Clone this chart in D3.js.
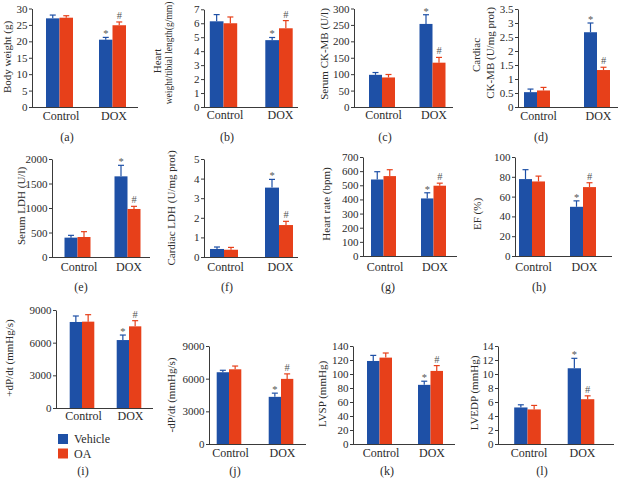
<!DOCTYPE html>
<html>
<head>
<meta charset="utf-8">
<script src="https://cdn.jsdelivr.net/npm/d3@7"></script>
<style>
  html, body { margin: 0; padding: 0; background: #fff; }
  svg { display: block; font-family: "Liberation Serif", "Times New Roman", serif; }
</style>
</head>
<body>
<svg id="chart" width="623" height="480"></svg>
<script>
// ---------- DATA ----------
// order of each array: [Control-Vehicle, Control-OA, DOX-Vehicle, DOX-OA]
const categories = ["Control", "DOX"];
const seriesNames = ["Vehicle", "OA"];
const sigMarks = ["", "", "*", "#"];

const bodyWeightMean = [27.0, 27.2, 20.5, 24.9];
const bodyWeightErr  = [1.0, 0.6, 0.7, 1.0];
const bodyWeightTicks = [0, 5, 10, 15, 20, 25, 30];

const heartTibialMean = [6.14, 6.0, 4.79, 5.64];
const heartTibialErr  = [0.48, 0.45, 0.19, 0.55];
const heartTibialTicks = [0, 1, 2, 3, 4, 5, 6, 7];

const serumCKMBMean = [98, 90, 253, 135];
const serumCKMBErr  = [7, 9, 28, 16];
const serumCKMBTicks = [0, 50, 100, 150, 200, 250, 300];

const cardiacCKMBMean = [0.53, 0.59, 2.67, 1.32];
const cardiacCKMBErr  = [0.11, 0.11, 0.33, 0.10];
const cardiacCKMBTicks = [0, 0.5, 1, 1.5, 2, 2.5, 3, 3.5];

const serumLDHMean = [395, 408, 1646, 980];
const serumLDHErr  = [47, 109, 225, 54];
const serumLDHTicks = [0, 500, 1000, 1500, 2000];

const cardiacLDHMean = [0.41, 0.37, 3.54, 1.63];
const cardiacLDHErr  = [0.10, 0.12, 0.42, 0.19];
const cardiacLDHTicks = [0, 1, 2, 3, 4, 5];

const heartRateMean = [541, 565, 407, 497];
const heartRateErr  = [55, 45, 40, 18];
const heartRateTicks = [0, 100, 200, 300, 400, 500, 600, 700];

const efMean = [77.7, 75.3, 49.7, 69.6];
const efErr  = [9.5, 5.4, 6.0, 4.4];
const efTicks = [0, 20, 40, 60, 80, 100];

const posDpdtMean = [7900, 7930, 6240, 7500];
const posDpdtErr  = [550, 640, 460, 520];
const posDpdtTicks = [0, 3000, 6000, 9000];

const negDpdtMean = [6590, 6860, 4330, 5980];
const negDpdtErr  = [180, 300, 340, 460];
const negDpdtTicks = [0, 3000, 6000, 9000];

const lvspMean = [118.6, 123.4, 84.5, 104.4];
const lvspErr  = [8.0, 6.6, 5.2, 7.6];
const lvspTicks = [0, 20, 40, 60, 80, 100, 120, 140];

const lvedpMean = [5.22, 4.94, 10.82, 6.4];
const lvedpErr  = [0.38, 0.57, 1.42, 0.48];
const lvedpTicks = [0, 2, 4, 6, 8, 10, 12, 14];

const panelLetters = ["(a)", "(b)", "(c)", "(d)", "(e)", "(f)", "(g)", "(h)", "(i)", "(j)", "(k)", "(l)"];

// ---------- LAYOUT / STYLE ----------
const colors = ["#1e50a6", "#e7401a"];
const axisColor = "#3a3a3a";
const textColor = "#2b2b2b";

const panels = [
  {mean: bodyWeightMean, err: bodyWeightErr, ticks: bodyWeightTicks,
   titles: [{t: "Body weight (g)", x: 7, y: 57, fs: 11}],
   x0: 32, x1: 138, yTop: 8.5, yBot: 107, c: [59.5, 112.5], bw: 13.5, catY: 116, lx: 67, ly: 137},
  {mean: heartTibialMean, err: heartTibialErr, ticks: heartTibialTicks,
   titles: [{t: "Heart", x: 157, y: 61, fs: 11}, {t: "weight/tibial length(g/mm)", x: 169, y: 53, fs: 9.5}],
   x0: 204, x1: 298, yTop: 9.3, yBot: 107, c: [223.5, 279], bw: 13.7, catY: 115, lx: 227, ly: 137},
  {mean: serumCKMBMean, err: serumCKMBErr, ticks: serumCKMBTicks,
   titles: [{t: "Serum CK-MB (U/l)", x: 324, y: 54, fs: 11}],
   x0: 354, x1: 453, yTop: 8.5, yBot: 107, c: [382, 432.5], bw: 13, catY: 115, lx: 385, ly: 137},
  {mean: cardiacCKMBMean, err: cardiacCKMBErr, ticks: cardiacCKMBTicks,
   titles: [{t: "Cardiac", x: 476, y: 55, fs: 11}, {t: "CK-MB (U/mg prot)", x: 490, y: 53, fs: 11}],
   x0: 518, x1: 618, yTop: 9, yBot: 107, c: [537, 597], bw: 13, catY: 116, lx: 541, ly: 137},

  {mean: serumLDHMean, err: serumLDHErr, ticks: serumLDHTicks,
   titles: [{t: "Serum LDH (U/l)", x: 20.5, y: 206, fs: 11}],
   x0: 52, x1: 150, yTop: 159, yBot: 257, c: [77.5, 127.5], bw: 13, catY: 267, lx: 81, ly: 287},
  {mean: cardiacLDHMean, err: cardiacLDHErr, ticks: cardiacLDHTicks,
   titles: [{t: "Cardiac LDH (U/mg prot)", x: 170.5, y: 208, fs: 11}],
   x0: 204, x1: 298, yTop: 159, yBot: 257, c: [224, 279], bw: 14, catY: 267, lx: 227, ly: 287},
  {mean: heartRateMean, err: heartRateErr, ticks: heartRateTicks,
   titles: [{t: "Heart rate (bpm)", x: 326, y: 204, fs: 11}],
   x0: 363, x1: 457, yTop: 157, yBot: 256, c: [383.5, 433.5], bw: 12.5, catY: 267, lx: 388, ly: 287},
  {mean: efMean, err: efErr, ticks: efTicks,
   titles: [{t: "EF (%)", x: 477, y: 214, fs: 11}],
   x0: 515, x1: 612, yTop: 157, yBot: 256, c: [532, 583], bw: 13, catY: 267, lx: 539, ly: 287},

  {mean: posDpdtMean, err: posDpdtErr, ticks: posDpdtTicks,
   titles: [{t: "+dP/dt (mmHg/s)", x: 9, y: 358, fs: 11}],
   x0: 56, x1: 153, yTop: 310, yBot: 408, c: [82, 129], bw: 12.3, catY: 416, lx: 83, ly: 471},
  {mean: negDpdtMean, err: negDpdtErr, ticks: negDpdtTicks,
   titles: [{t: "-dP/dt (mmHg/s)", x: 171, y: 395, fs: 11}],
   x0: 209, x1: 306, yTop: 346, yBot: 444, c: [229, 281], bw: 12.3, catY: 453, lx: 235, ly: 471},
  {mean: lvspMean, err: lvspErr, ticks: lvspTicks,
   titles: [{t: "LVSP (mmHg)", x: 322, y: 394, fs: 11}],
   x0: 353, x1: 455, yTop: 346, yBot: 444, c: [379.5, 430.5], bw: 12.5, catY: 453, lx: 387, ly: 471},
  {mean: lvedpMean, err: lvedpErr, ticks: lvedpTicks,
   titles: [{t: "LVEDP (mmHg)", x: 474, y: 393, fs: 11}],
   x0: 498, x1: 614, yTop: 346, yBot: 444, c: [527.5, 581], bw: 13.3, catY: 453, lx: 542, ly: 471}
];

// ---------- DRAW ----------
const svg = d3.select("#chart");

panels.forEach((p, pi) => {
  const g = svg.append("g");
  const ticks = p.ticks;
  const y = d3.scaleLinear().domain([0, ticks[ticks.length - 1]]).range([p.yBot, p.yTop]);
  const x = d3.scalePoint().domain(categories).range(p.c);

  const recs = [];
  categories.forEach((cat, ci) => {
    seriesNames.forEach((s, si) => {
      const k = ci * 2 + si;
      recs.push({cat, si, v: p.mean[k], e: p.err[k], mark: sigMarks[k]});
    });
  });
  const bx = d => x(d.cat) - p.bw + d.si * p.bw;

  // bars
  g.selectAll("rect.bar").data(recs).join("rect")
    .attr("x", bx)
    .attr("y", d => y(d.v))
    .attr("width", p.bw)
    .attr("height", d => y(0) - y(d.v))
    .attr("fill", d => colors[d.si]);

  // error bars (upper only)
  g.selectAll("line.err").data(recs).join("line")
    .attr("x1", d => bx(d) + p.bw / 2).attr("x2", d => bx(d) + p.bw / 2)
    .attr("y1", d => y(d.v)).attr("y2", d => y(d.v + d.e))
    .attr("stroke", d => colors[d.si]).attr("stroke-width", 1.2);
  g.selectAll("line.cap").data(recs).join("line")
    .attr("x1", d => bx(d) + p.bw / 2 - 3).attr("x2", d => bx(d) + p.bw / 2 + 3)
    .attr("y1", d => y(d.v + d.e)).attr("y2", d => y(d.v + d.e))
    .attr("stroke", d => colors[d.si]).attr("stroke-width", 1.2);

  // significance marks
  g.selectAll("text.sig").data(recs.filter(d => d.mark)).join("text")
    .attr("x", d => bx(d) + p.bw / 2)
    .attr("y", d => y(d.v + d.e) - (d.mark === "*" ? 0 : 3))
    .attr("text-anchor", "middle")
    .attr("font-size", 10.5)
    .attr("fill", "#555")
    .text(d => d.mark);

  // y axis
  const ax = g.append("g").attr("transform", `translate(${p.x0},0)`)
    .call(d3.axisLeft(y).tickValues(ticks).tickFormat(d => String(d)).tickSize(3).tickSizeOuter(0).tickPadding(1.5));
  ax.selectAll("path, line").attr("stroke", axisColor);
  ax.selectAll("text").attr("font-size", 11).attr("fill", textColor)
    .attr("font-family", "Liberation Serif, Times New Roman, serif");

  // x axis line
  g.append("line").attr("x1", p.x0).attr("x2", p.x1)
    .attr("y1", y(0) + 0.5).attr("y2", y(0) + 0.5)
    .attr("stroke", axisColor).attr("stroke-width", 1);

  // category labels
  g.selectAll("text.cat").data(categories).join("text")
    .attr("x", d => x(d) + 1.5)
    .attr("y", p.catY)
    .attr("dominant-baseline", "central")
    .attr("text-anchor", "middle")
    .attr("font-size", 12)
    .attr("fill", textColor)
    .text(d => d);

  // titles
  p.titles.forEach(t => {
    g.append("text")
      .attr("transform", `translate(${t.x},${t.y}) rotate(-90)`)
      .attr("text-anchor", "middle")
      .attr("dominant-baseline", "central")
      .attr("font-size", t.fs)
      .attr("fill", textColor)
      .text(t.t);
  });

  // panel letter
  g.append("text").attr("x", p.lx).attr("y", p.ly)
    .attr("text-anchor", "middle").attr("dominant-baseline", "central")
    .attr("font-size", 12).attr("fill", textColor)
    .text(panelLetters[pi]);
});

// legend
const leg = svg.append("g");
seriesNames.forEach((s, i) => {
  leg.append("rect").attr("x", 58).attr("y", 434 + i * 14.5).attr("width", 10).attr("height", 10).attr("fill", colors[i]);
  leg.append("text").attr("x", 74).attr("y", 439 + i * 14.5)
    .attr("dominant-baseline", "central").attr("font-size", 12).attr("fill", textColor).text(s);
});
</script>
</body>
</html>
